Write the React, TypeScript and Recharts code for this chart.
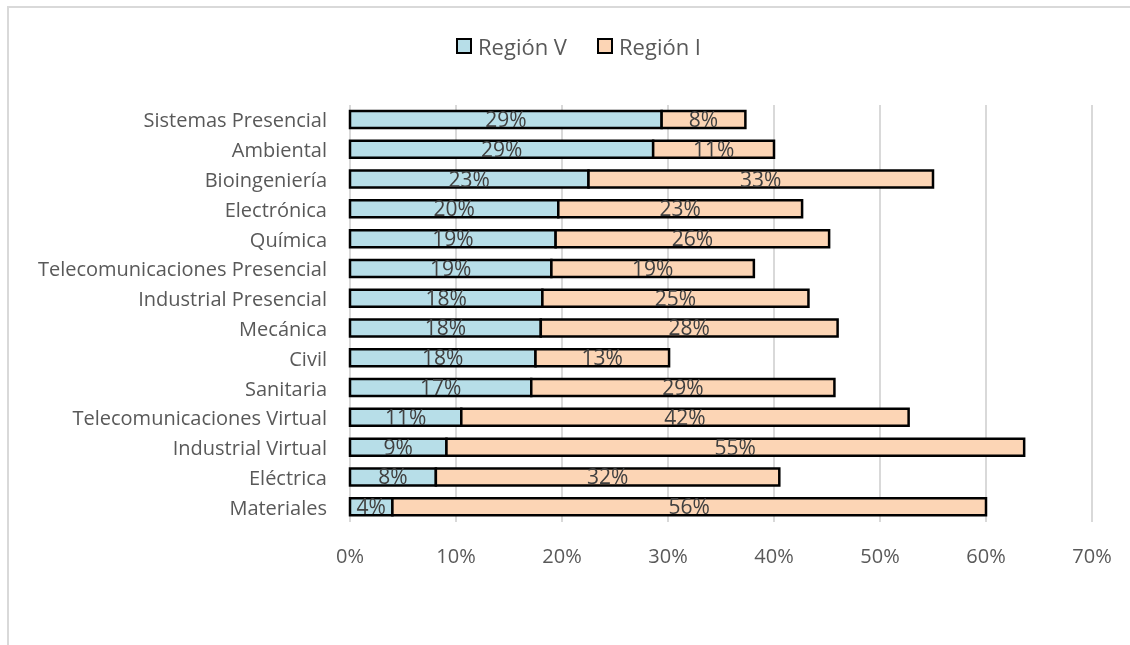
import React from "react";
import { BarChart, Bar, XAxis, YAxis, CartesianGrid, LabelList } from "recharts";

// carreras, de arriba hacia abajo
const categories = [
  "Sistemas Presencial",
  "Ambiental",
  "Bioingeniería",
  "Electrónica",
  "Química",
  "Telecomunicaciones Presencial",
  "Industrial Presencial",
  "Mecánica",
  "Civil",
  "Sanitaria ",
  "Telecomunicaciones Virtual",
  "Industrial Virtual",
  "Eléctrica",
  "Materiales",
];

// porcentajes (%)
const regionV = [29.4, 28.6, 22.5, 19.65, 19.4, 19.0, 18.15, 18.0, 17.5, 17.1, 10.5, 9.1, 8.1, 4.0];
const regionI = [7.9, 11.4, 32.5, 23.0, 25.8, 19.1, 25.1, 28.0, 12.6, 28.6, 42.2, 54.5, 32.4, 56.0];

const xTicks = [0, 10, 20, 30, 40, 50, 60, 70];

const COLORS = { v: "#b7dee8", i: "#fcd5b5" };
const FONT = "'Open Sans', sans-serif";

const data = categories.map((name, idx) => ({
  name,
  v: regionV[idx],
  i: regionI[idx],
}));

const pct = (value: any) => `${Math.round(Number(value))}%`;

const YTick = ({ x, y, payload }: any) => (
  <text x={x} y={y} dy="0.38em" textAnchor="end" fill="#595959" fontSize={20} fontFamily={FONT}>
    {payload.value}
  </text>
);

const XTick = ({ x, y, payload }: any) => (
  <text x={x} y={y} dy="0.36em" textAnchor="middle" fill="#595959" fontSize={20} fontFamily={FONT}>
    {payload.value}%
  </text>
);

const LegendItem = ({ color, label }: { color: string; label: string }) => (
  <div style={{ display: "flex", alignItems: "center", marginRight: 30 }}>
    <span
      style={{
        width: 12,
        height: 12,
        background: color,
        border: "2.5px solid #000",
        marginRight: 6,
      }}
    />
    <span style={{ fontSize: 22, color: "#595959", fontFamily: FONT }}>{label}</span>
  </div>
);

export default function App() {
  return (
    <div>
      {/* borde del área del gráfico */}
      <div
        style={{
          position: "fixed",
          left: 7,
          top: 6,
          width: 1123,
          height: 639,
          borderTop: "2px solid #d9d9d9",
          borderLeft: "2px solid #d9d9d9",
          boxSizing: "border-box",
        }}
      />
      <div style={{ position: "fixed", left: 0, top: 0, width: 1130, height: 645 }}>
        <BarChart
          width={1130}
          height={645}
          data={data}
          layout="vertical"
          barSize={17}
          margin={{ top: 105, right: 38, bottom: 63, left: 0 }}
        >
          <CartesianGrid horizontal={false} stroke="#d9d9d9" strokeWidth={2} />
          <XAxis
            type="number"
            domain={[0, 70]}
            ticks={xTicks}
            axisLine={false}
            tickLine={false}
            tickSize={0}
            tickMargin={34}
            height={60}
            tick={<XTick />}
          />
          <YAxis
            type="category"
            dataKey="name"
            width={350}
            axisLine={false}
            tickLine={false}
            tickSize={0}
            tickMargin={23}
            interval={0}
            tick={<YTick />}
          />
          <Bar dataKey="v" name="Región V" stackId="a" fill={COLORS.v} stroke="#000" strokeWidth={2.5} isAnimationActive={false}>
            <LabelList dataKey="v" position="center" formatter={pct} fill="#404040" fontSize={21} fontFamily={FONT} />
          </Bar>
          <Bar dataKey="i" name="Región I" stackId="a" fill={COLORS.i} stroke="#000" strokeWidth={2.5} isAnimationActive={false}>
            <LabelList dataKey="i" position="center" formatter={pct} fill="#404040" fontSize={21} fontFamily={FONT} />
          </Bar>
        </BarChart>
        <div style={{ position: "absolute", left: 456, top: 31, display: "flex" }}>
          <LegendItem color={COLORS.v} label="Región V" />
          <LegendItem color={COLORS.i} label="Región I" />
        </div>
      </div>
    </div>
  );
}
